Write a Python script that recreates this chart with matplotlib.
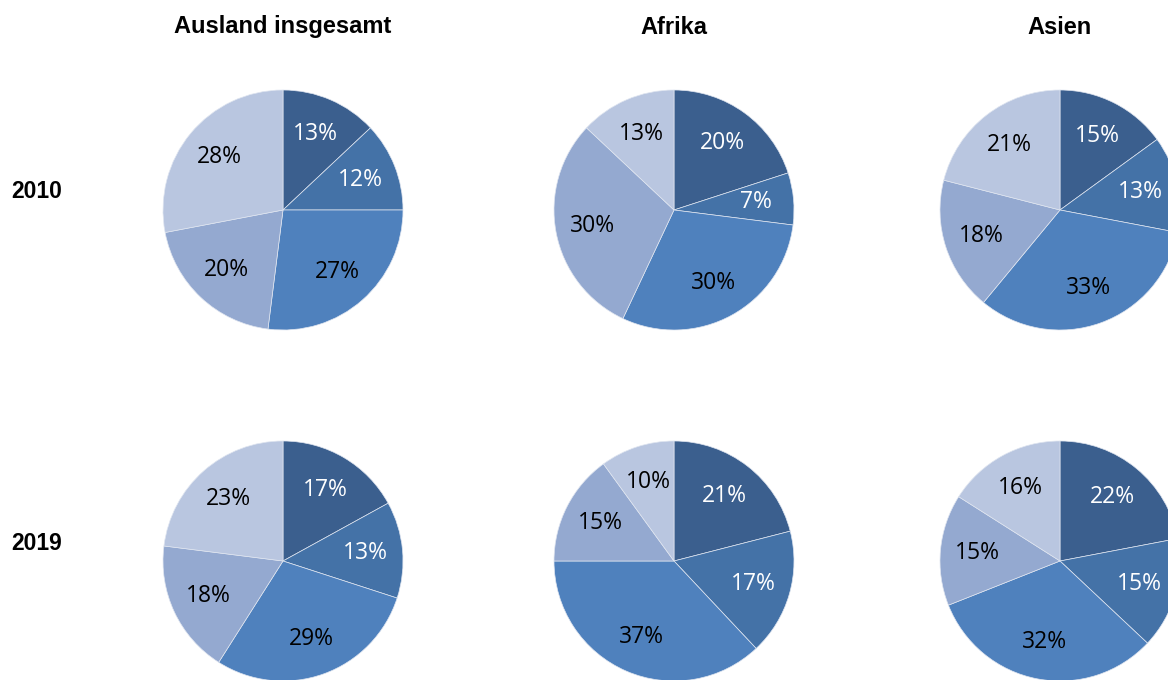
import matplotlib.pyplot as plt

# Shares in percent, clockwise from 12 o'clock
regions = ['Ausland insgesamt', 'Afrika', 'Asien']
years = ['2010', '2019']

shares_2010 = [
    [13, 12, 27, 20, 28],   # Ausland insgesamt
    [20, 7, 30, 30, 13],    # Afrika
    [15, 13, 33, 18, 21],   # Asien
]
shares_2019 = [
    [17, 13, 29, 18, 23],
    [21, 17, 37, 15, 10],
    [22, 15, 32, 15, 16],
]

SLICE_COLORS = ['#3b5f8e', '#4472a7', '#4f81bd', '#94a9d0', '#b9c6e0']
LABEL_COLORS = ['white', 'white', 'black', 'black', 'black']

W, H = 1168, 680
fig = plt.figure(figsize=(W / 100, H / 100), dpi=100)

col_x = [283, 674, 1060]    # pie centres in pixels
row_y = [210, 561]
radius = 120

for r, (year, data) in enumerate(zip(years, [shares_2010, shares_2019])):
    for c, values in enumerate(data):
        cx, cy = col_x[c], row_y[r]
        ax = fig.add_axes([(cx - radius) / W, 1 - (cy + radius) / H,
                           2 * radius / W, 2 * radius / H])
        wedges, texts, autotexts = ax.pie(
            values, colors=SLICE_COLORS, startangle=90, counterclock=False,
            radius=1, autopct='%d%%', pctdistance=0.69,
            wedgeprops=dict(edgecolor='#dfe5f0', linewidth=0.5))
        for t, col in zip(autotexts, LABEL_COLORS):
            t.set_color(col)
            t.set_fontsize(16.5)
            t.set_family(['Open Sans', 'DejaVu Sans'])
        ax.set_xlim(-1, 1)
        ax.set_ylim(-1, 1)
        ax.set_aspect('equal')
        ax.axis('off')

    fig.text(37 / W, 1 - (row_y[r] - 18) / H, year, ha='center', va='center',
             fontsize=16.5, fontweight='bold', family='Liberation Sans')

for c, name in enumerate(regions):
    fig.text(col_x[c] / W, 1 - 27 / H, name, ha='center', va='center',
             fontsize=17, fontweight='bold', family='Liberation Sans')

plt.savefig('out.png', dpi=100)
plt.close()
